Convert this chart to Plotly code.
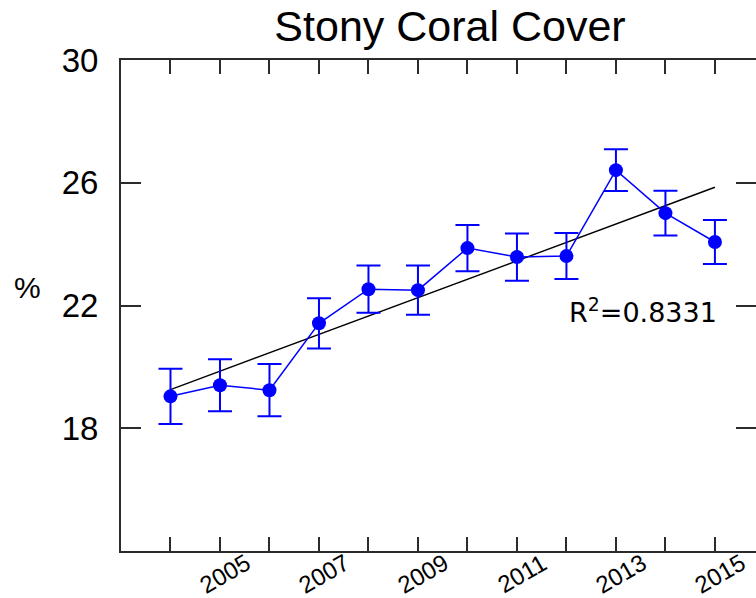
import numpy as np
import plotly.graph_objects as go

# Annual mean stony coral cover (%) with error bars
years = [2004, 2005, 2006, 2007, 2008, 2009, 2010, 2011, 2012, 2013, 2014, 2015]
cover = [19.04, 19.40, 19.24, 21.42, 22.53, 22.50, 23.87, 23.58, 23.61, 26.41, 25.01, 24.07]
err = [0.90, 0.85, 0.85, 0.82, 0.77, 0.80, 0.75, 0.77, 0.75, 0.68, 0.73, 0.72]

# Axis ticks and labels
x_label_years = [2005, 2007, 2009, 2011, 2013, 2015]
y_ticks = [18, 22, 26, 30]
r2_text = "R<sup>2</sup>=0.8331"

# Linear trend through the yearly means
slope, intercept = np.polyfit(years, cover, 1)
trend_x = [years[0], years[-1]]
trend_y = [slope * x + intercept for x in trend_x]

BLUE = "#0000ff"
AXIS = "#2b2b2b"
FONT = "Liberation Sans, Arial, sans-serif"

fig = go.Figure()

fig.add_trace(go.Scatter(
    x=trend_x, y=trend_y, mode="lines",
    line=dict(color="black", width=1.4),
    hoverinfo="skip", showlegend=False,
))

fig.add_trace(go.Scatter(
    x=years, y=cover, mode="lines+markers",
    line=dict(color=BLUE, width=1.5),
    marker=dict(color=BLUE, size=14),
    error_y=dict(type="data", array=err, visible=True,
                 color=BLUE, thickness=2, width=12),
    showlegend=False,
))

# invisible trace so the right-hand tick axis is drawn
fig.add_trace(go.Scatter(
    x=[years[0]], y=[cover[0]], yaxis="y2", mode="markers",
    marker=dict(opacity=0), hoverinfo="skip", showlegend=False,
))

x_range = [2003, 2015.83]
y_range = [14, 30]

fig.update_layout(
    width=756, height=598,
    margin=dict(l=121, r=0, t=60, b=47),
    paper_bgcolor="white", plot_bgcolor="white",
    font=dict(family=FONT, color="black"),
    title=dict(
        text="Stony Coral Cover",
        font=dict(family=FONT, size=43, color="black"),
        x=450 / 756, xanchor="center", xref="container",
        y=1 - 26 / 598, yanchor="middle", yref="container",
    ),
    xaxis=dict(
        range=x_range, showgrid=False, zeroline=False,
        showline=True, linecolor=AXIS, linewidth=2, mirror="ticks",
        ticks="inside", ticklen=14, tickwidth=1.5, tickcolor=AXIS,
        tickmode="array", tickvals=years, showticklabels=False,
    ),
    yaxis=dict(
        range=y_range, showgrid=False, zeroline=False,
        showline=True, linecolor=AXIS, linewidth=2,
        ticks="inside", ticklen=20, tickwidth=1.5, tickcolor=AXIS,
        tickmode="array", tickvals=y_ticks,
        tickfont=dict(family=FONT, size=33, color="black"),
        ticklabelstandoff=14,
    ),
    yaxis2=dict(
        range=y_range, overlaying="y", side="right",
        showgrid=False, zeroline=False, showline=False,
        ticks="inside", ticklen=20, tickwidth=1.5, tickcolor=AXIS,
        tickmode="array", tickvals=y_ticks, showticklabels=False,
    ),
)

# rotated year labels under the axis
for yr in x_label_years:
    fig.add_annotation(
        x=yr, y=0, xref="x", yref="paper",
        text=str(yr), showarrow=False, textangle=-30,
        xanchor="center", yanchor="middle", xshift=5, yshift=-22,
        font=dict(family=FONT, size=24, color="black"),
    )

# y-axis unit
fig.add_annotation(
    x=(27 - 121) / 635, y=(551 - 287) / 491, xref="paper", yref="paper",
    text="%", showarrow=False, xanchor="center", yanchor="middle",
    font=dict(family=FONT, size=30, color="black"),
)

# goodness of fit label
fig.add_annotation(
    x=2013.55, y=21.85, xref="x", yref="y",
    text=r2_text, showarrow=False, xanchor="center", yanchor="middle",
    font=dict(family="DejaVu Sans, sans-serif", size=27, color="black"),
)

fig.write_html("out.html")
